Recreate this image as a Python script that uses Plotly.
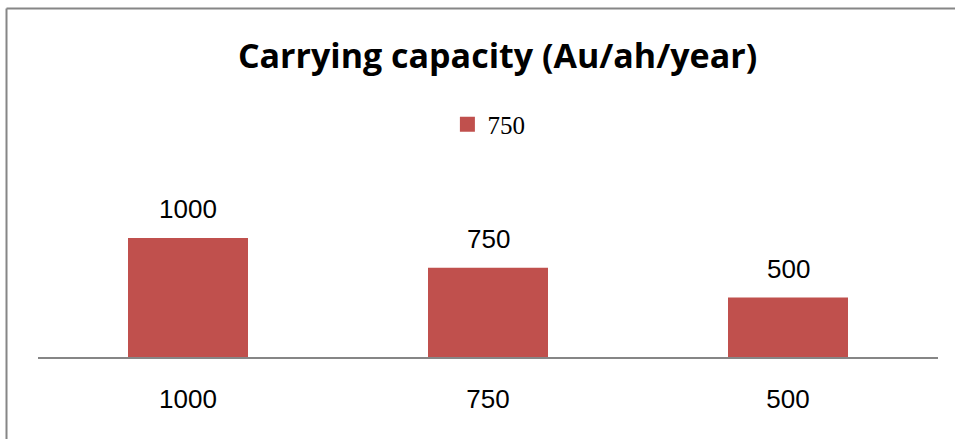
import plotly.graph_objects as go

categories = ["1000", "750", "500"]
values = [1000, 750, 500]
series_name = "750"
title_text = "Carrying capacity (Au/ah/year)"

BAR_COLOR = "#C0504D"
GRID_GRAY = "#868686"

fig = go.Figure()
fig.add_trace(go.Bar(
    x=categories, y=values, name=series_name,
    marker=dict(color=BAR_COLOR, line=dict(width=0)),
    width=0.4, showlegend=False, hoverinfo="skip",
))
# legend entry (square marker)
fig.add_trace(go.Scatter(
    x=[categories[0]], y=[None], mode="markers", name=series_name,
    marker=dict(symbol="square", size=15, color=BAR_COLOR),
    showlegend=True, hoverinfo="skip",
))

annotations = []
for i, v in enumerate(values):
    annotations.append(dict(
        x=i, y=v, xref="x", yref="y", text=str(v), showarrow=False,
        yanchor="bottom", yshift=12,
        font=dict(family="Liberation Sans, Arial", size=26, color="#000000"),
    ))

fig.update_layout(
    width=955, height=439,
    margin=dict(l=38, r=17, t=160, b=82, pad=0),
    paper_bgcolor="white", plot_bgcolor="white",
    title=dict(
        text="<b>" + title_text + "</b>",
        x=0.5106, xanchor="center", xref="paper",
        y=1 - 56 / 439, yanchor="middle", yref="container",
        font=dict(family="Open Sans", size=34, color="#000000"),
    ),
    legend=dict(
        orientation="h", x=0.501, xanchor="center", y=1.18, yanchor="middle",
        font=dict(family="Liberation Serif, Times New Roman", size=25, color="#000000"),
        bgcolor="rgba(0,0,0,0)", itemwidth=30,
    ),
    xaxis=dict(
        type="category", range=[-0.5, 2.5], showgrid=False, zeroline=False,
        showline=True, linecolor=GRID_GRAY, linewidth=2,
        ticks="", ticklabelstandoff=18,
        tickfont=dict(family="Liberation Sans, Arial", size=26, color="#000000"),
        fixedrange=True,
    ),
    yaxis=dict(
        range=[0, 197 / 0.119], visible=False, showgrid=False, zeroline=False,
        fixedrange=True,
    ),
    annotations=annotations,
    shapes=[
        dict(type="line", xref="paper", yref="paper",
             x0=(6.5 - 38) / 900, x1=(6.5 - 38) / 900,
             y0=(357 - 8.5) / 197, y1=(357 - 445) / 197,
             line=dict(color=GRID_GRAY, width=2)),
        dict(type="line", xref="paper", yref="paper",
             x0=(6.5 - 38) / 900, x1=(960 - 38) / 900,
             y0=(357 - 8.5) / 197, y1=(357 - 8.5) / 197,
             line=dict(color=GRID_GRAY, width=2)),
    ],
    bargap=0.6,
)

fig.write_html("out.html", config={"displayModeBar": False})
